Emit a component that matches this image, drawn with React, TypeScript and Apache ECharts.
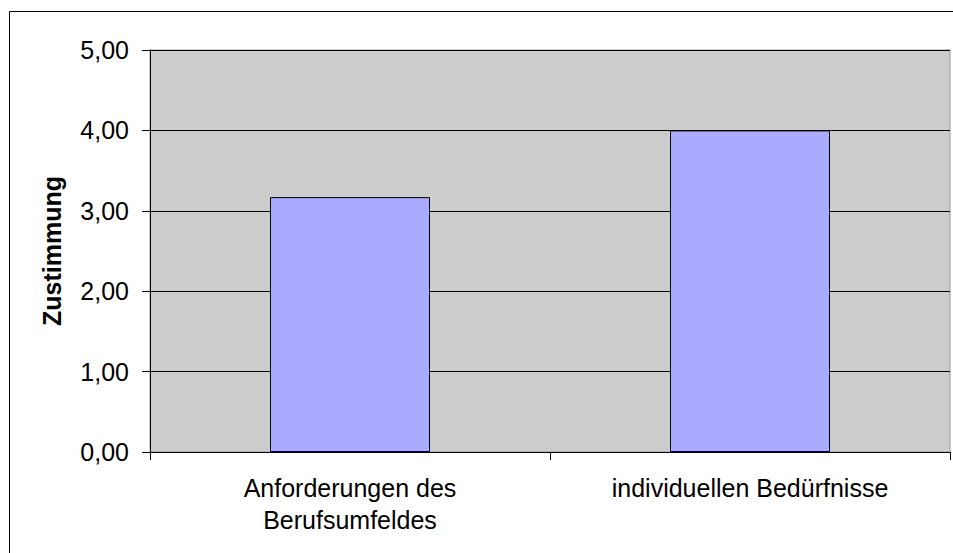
import React, { useEffect, useRef } from "react";
import * as echarts from "echarts";

const categories = ["Anforderungen des\nBerufsumfeldes", "individuellen Bedürfnisse"];
const values = [3.17, 4.0];
const yAxisName = "Zustimmung";

const FONT = "Liberation Sans, Arial, sans-serif";

export default function App() {
  const ref = useRef<HTMLDivElement>(null);
  useEffect(() => {
    const chart = echarts.init(ref.current!, undefined, { renderer: "svg" });
    chart.setOption({
      animation: false,
      textStyle: { fontFamily: FONT },
      graphic: [
        {
          type: "rect",
          shape: { x: 9.5, y: 11.5, width: 1000, height: 1000 },
          style: { fill: "none", stroke: "#000", lineWidth: 1 },
          silent: true,
        },
      ],
      grid: {
        left: 150,
        top: 50,
        right: 3,
        bottom: 101,
        show: true,
        backgroundColor: "#CCCCCC",
        borderColor: "#999999",
        borderWidth: 1,
      },
      xAxis: {
        type: "category",
        data: categories,
        boundaryGap: true,
        axisLine: { show: true, lineStyle: { color: "#000", width: 1 } },
        axisTick: { show: true, alignWithLabel: false, length: 8, lineStyle: { color: "#000" } },
        axisLabel: {
          color: "#000",
          fontSize: 25,
          lineHeight: 32,
          margin: 20,
          interval: 0,
          fontFamily: FONT,
        },
      },
      yAxis: {
        type: "value",
        min: 0,
        max: 5,
        interval: 1,
        name: yAxisName,
        nameLocation: "middle",
        nameRotate: 90,
        nameGap: 86,
        nameTextStyle: {
          color: "#000",
          fontSize: 25,
          fontWeight: "bold",
          fontFamily: FONT,
        },
        axisLine: { show: true, lineStyle: { color: "#000", width: 1 } },
        axisTick: { show: true, inside: false, length: 8, lineStyle: { color: "#000" } },
        axisLabel: {
          color: "#000",
          fontSize: 25,
          margin: 21,
          fontFamily: FONT,
          formatter: (v: number) => v.toFixed(2).replace(".", ","),
        },
        splitLine: { show: true, lineStyle: { color: "#000", width: 1 } },
      },
      series: [
        {
          type: "bar",
          data: values,
          barWidth: "40%",
          itemStyle: { color: "#AAAAFF", borderColor: "#000", borderWidth: 1 },
        },
      ],
    });
    return () => chart.dispose();
  }, []);
  return (
    <div
      ref={ref}
      style={{ position: "fixed", left: 0, top: 0, width: 953, height: 553, background: "#fff" }}
    />
  );
}
